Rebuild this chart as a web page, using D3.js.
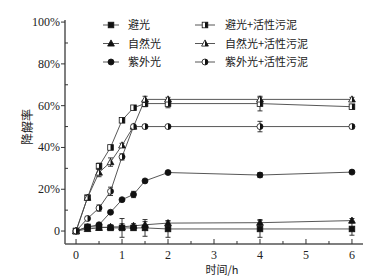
<!DOCTYPE html>
<html>
<head>
<meta charset="utf-8">
<script src="https://cdn.jsdelivr.net/npm/d3@7"></script>
<style>
  body { margin: 0; background: #fff; }
  svg { display: block; }
  .num { font-family: "Liberation Serif", "DejaVu Serif", serif; font-size: 12px; fill: #222; }
  .cjk { font-family: "Noto Sans CJK SC", sans-serif; font-size: 11px; fill: #222; }
</style>
</head>
<body>
<svg id="chart" width="385" height="279"></svg>
<script>
// time points (h)
const times = [0, 0.25, 0.5, 0.75, 1, 1.25, 1.5, 2, 4, 6];

// degradation rate (%) per series
const dark = [0, 2, 2, 1.5, 1.5, 1.5, 1.5, 1, 1, 1];
const natural = [0, 1, 1.5, 2, 2, 2.5, 3, 3.8, 4, 5];
const uv = [0, 2, 3, 9, 15, 17.5, 24, 28, 26.8, 28.2];
const darkSludge = [0, 16, 31, 40, 53, 59, 61, 61, 61, 59.5];
const naturalSludge = [0, 16, 28, 33, 41, 50, 63, 63, 63, 63];
const uvSludge = [0, 6, 11, 19, 35.5, 50, 50, 50, 50, 50];

// error bars (+/- %)
const darkErr = [0, 1, 1.5, 1, 4.5, 1, 4, 4, 4, 3];
const naturalErr = [0, 1, 1, 1, 1.5, 1, 1.5, 1, 1.5, 1];
const uvErr = [0, 0.5, 0.5, 0.5, 0.5, 1.5, 0.5, 0.5, 1.2, 0.8];
const darkSludgeErr = [0, 1, 1.5, 0.5, 0.5, 0.5, 1.5, 2, 3.5, 1];
const naturalSludgeErr = [0, 1, 2, 2, 1, 1, 1.5, 1, 1, 1];
const uvSludgeErr = [0, 1, 1.5, 2, 1.5, 1, 1, 0.5, 2.5, 1];

const xTicks = [0, 1, 2, 3, 4, 5, 6];
const yTicks = [0, 20, 40, 60, 80, 100];
const yTickLabels = ["0", "20%", "40%", "60%", "80%", "100%"];

const series = [
  {name: "避光", values: dark, err: darkErr, shape: "square", half: false},
  {name: "自然光", values: natural, err: naturalErr, shape: "triangle", half: false},
  {name: "紫外光", values: uv, err: uvErr, shape: "circle", half: false},
  {name: "避光+活性污泥", values: darkSludge, err: darkSludgeErr, shape: "square", half: true},
  {name: "自然光+活性污泥", values: naturalSludge, err: naturalSludgeErr, shape: "triangle", half: true},
  {name: "紫外光+活性污泥", values: uvSludge, err: uvSludgeErr, shape: "circle", half: true}
];

const svg = d3.select("#chart");
const plotL = 65, plotR = 363, plotT = 20, plotB = 244;

const x = d3.scaleLinear().domain([-0.24, 6.24]).range([plotL, plotR]);
const y = d3.scaleLinear().domain([-6.2, 101]).range([plotB, plotT]);

// clip for half filling
const defs = svg.append("defs");

// axes
let axes = svg.append("g");
axes.append("line").attr("x1", plotL).attr("x2", plotR).attr("y1", plotB).attr("y2", plotB)
  .attr("stroke", "#555").attr("stroke-width", 1.5);
axes.append("line").attr("x1", plotL).attr("x2", plotL).attr("y1", plotT).attr("y2", plotB)
  .attr("stroke", "#555").attr("stroke-width", 1.5);

// x ticks: major inward, minor at half hours
xTicks.forEach(t => {
  axes.append("line").attr("x1", x(t)).attr("x2", x(t)).attr("y1", plotB).attr("y2", plotB - 5)
    .attr("stroke", "#333");
  axes.append("text").attr("class", "num").attr("x", x(t)).attr("y", plotB + 15)
    .attr("text-anchor", "middle").text(t);
});
d3.range(0.5, 6, 1).forEach(t => {
  axes.append("line").attr("x1", x(t)).attr("x2", x(t)).attr("y1", plotB).attr("y2", plotB - 3)
    .attr("stroke", "#333");
});

// y ticks
yTicks.forEach((t, i) => {
  axes.append("line").attr("x1", plotL - 4).attr("x2", plotL).attr("y1", y(t)).attr("y2", y(t))
    .attr("stroke", "#333");
  axes.append("text").attr("class", "num").attr("x", plotL - 5).attr("y", y(t) + 4)
    .attr("text-anchor", "end").text(yTickLabels[i]);
});
d3.range(10, 100, 20).forEach(t => {
  axes.append("line").attr("x1", plotL).attr("x2", plotL + 3).attr("y1", y(t)).attr("y2", y(t))
    .attr("stroke", "#333");
});

// axis titles
svg.append("text").attr("class", "cjk").attr("transform", "translate(32,127) rotate(-90)")
  .attr("text-anchor", "middle").style("font-size", "12px").text("降解率");
svg.append("text").attr("class", "cjk").attr("x", 222).attr("y", 274)
  .attr("text-anchor", "middle").style("font-size", "11px").text("时间/h");

// marker drawing
let clipId = 0;
function drawMarker(g, shape, half, cx, cy) {
  const make = (sel) => {
    if (shape === "square") {
      return sel.append("rect").attr("x", cx - 2.8).attr("y", cy - 2.8).attr("width", 5.6).attr("height", 5.6);
    } else if (shape === "circle") {
      return sel.append("circle").attr("cx", cx).attr("cy", cy).attr("r", 3);
    } else {
      return sel.append("path").attr("d", `M${cx},${cy - 3.6}L${cx + 3.4},${cy + 2.6}L${cx - 3.4},${cy + 2.6}Z`);
    }
  };
  if (!half) {
    make(g).attr("fill", "#111").attr("stroke", "#111").attr("stroke-width", 0.8);
  } else {
    const id = "c" + (clipId++);
    defs.append("clipPath").attr("id", id).append("rect")
      .attr("x", cx).attr("y", cy - 5).attr("width", 5).attr("height", 10);
    make(g).attr("fill", "#fff").attr("stroke", "#111").attr("stroke-width", 0.8);
    make(g).attr("fill", "#111").attr("clip-path", `url(#${id})`);
  }
}

const line = d3.line().x(d => x(d[0])).y(d => y(d[1]));

// lines first
series.forEach(s => {
  svg.append("path").datum(times.map((t, i) => [t, s.values[i]]))
    .attr("d", line).attr("fill", "none").attr("stroke", "#444").attr("stroke-width", 0.9);
});

// error bars and markers
series.forEach(s => {
  const g = svg.append("g");
  times.forEach((t, i) => {
    const e = s.err[i];
    if (e > 0.6) {
      const cx = x(t), y1 = y(s.values[i] + e), y2 = y(s.values[i] - e);
      g.append("line").attr("x1", cx).attr("x2", cx).attr("y1", y1).attr("y2", y2)
        .attr("stroke", "#222").attr("stroke-width", 0.9);
      [y1, y2].forEach(yy => g.append("line").attr("x1", cx - 2.5).attr("x2", cx + 2.5)
        .attr("y1", yy).attr("y2", yy).attr("stroke", "#222").attr("stroke-width", 0.9));
    }
  });
  times.forEach((t, i) => drawMarker(g, s.shape, s.half, x(t), y(s.values[i])));
});

// legend
const legendCols = [{lx1: 103, lx2: 119, tx: 128}, {lx1: 195, lx2: 215, tx: 225}];
const legendRows = [25, 43.5, 62];
series.forEach((s, i) => {
  const c = legendCols[Math.floor(i / 3)];
  const ly = legendRows[i % 3];
  const g = svg.append("g");
  g.append("line").attr("x1", c.lx1).attr("x2", c.lx2).attr("y1", ly).attr("y2", ly)
    .attr("stroke", "#444").attr("stroke-width", 0.9);
  drawMarker(g, s.shape, s.half, (c.lx1 + c.lx2) / 2, ly);
  g.append("text").attr("class", "cjk").attr("x", c.tx).attr("y", ly + 4).text(s.name);
});
</script>
</body>
</html>
